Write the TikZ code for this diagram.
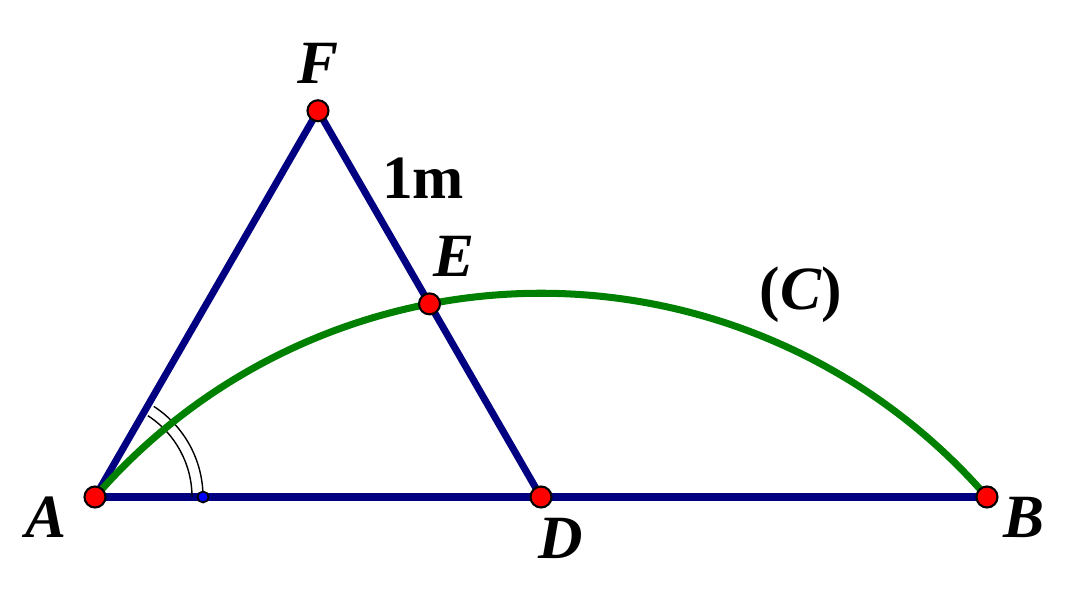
\documentclass[tikz,border=0pt]{standalone}
\usepackage{fontspec}
\setmainfont{Liberation Serif}
\usepackage{tikz}
\usetikzlibrary{calc}
\definecolor{segblue}{RGB}{0,0,128}
\definecolor{arcgreen}{RGB}{0,128,0}
\tikzset{
  seg/.style={segblue,line width=4pt},
  pt/.style={circle,draw=black,fill=red,line width=1.2pt,inner sep=0pt,minimum size=0.42cm},
  lbl/.style={font=\fontsize{35}{40}\selectfont\bfseries\itshape}
}
\begin{document}
\begin{tikzpicture}
	\useasboundingbox (0,0) rectangle (21.6,12.06);
	\def\s{8.92}
	\coordinate (A) at (1.9,2.12);
	\coordinate (D) at ($(A)+(\s,0)$);
	\coordinate (B) at ($(A)+(2*\s,0)$);
	\coordinate (F) at ($(A)+(60:\s)$);
	\coordinate (E) at ($(F)!0.5!(D)$);
	\coordinate (M) at ($(A)+(2.16,0)$);

	\draw[seg] (A) -- (B);
	\draw[seg] (A) -- (F) -- (D);

	\draw[line width=0.8pt] (A) ++(1.94,0) arc[start angle=0,end angle=57,radius=1.94];
	\draw[line width=0.8pt] (A) ++(2.16,0) arc[start angle=0,end angle=57,radius=2.16];
	\draw[arcgreen,line width=4pt] (A) arc[start angle=139.107,end angle=40.893,radius={\s*sqrt(7)/2}];

	\node[circle,draw=black,fill=blue,line width=1pt,inner sep=0pt,minimum size=0.22cm] (m) at (M) {};
	\foreach \p in {A,B,D,E,F}
		\node[pt] (p\p) at (\p) {};

	\node[lbl] (lA) at (0.92,1.72) {A};
	\node[lbl] (lB) at (20.48,1.72) {B};
	\node[lbl] (lD) at (11.22,1.30) {D};
	\node[lbl] (lE) at (9.08,6.94) {E};
	\node[lbl] (lF) at (6.36,10.80) {F};
	\node[font=\fontsize{35}{40}\selectfont\bfseries] (len) at (8.46,8.50) {1m};
	\node[font=\fontsize{35}{40}\selectfont\bfseries] (lC) at (16.02,6.16) {(\textit{C})};
\end{tikzpicture}
\end{document}
